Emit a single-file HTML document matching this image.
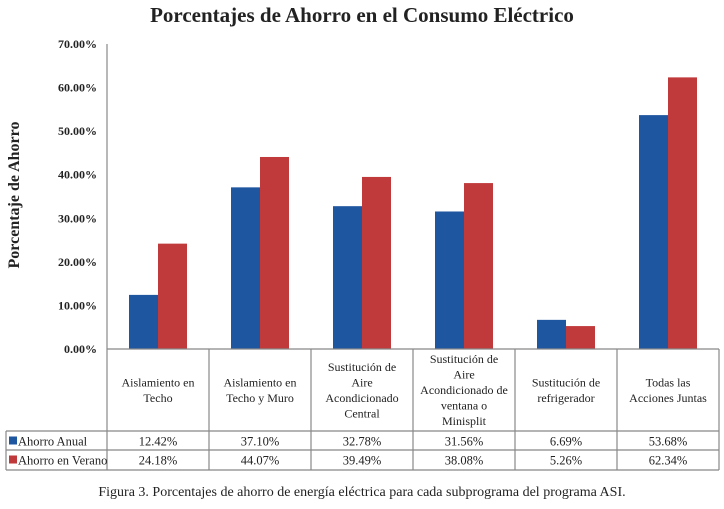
<!DOCTYPE html>
<html><head><meta charset="utf-8"><style>
body{margin:0;background:#fff;width:724px;height:504px;overflow:hidden;font-family:"Liberation Serif",serif;}
svg text{font-family:"Liberation Serif",serif;}
</style></head><body>
<svg id="c" width="724" height="504">
<text x="362" y="22" text-anchor="middle" font-size="21" font-weight="bold" fill="#222">Porcentajes de Ahorro en el Consumo  Eléctrico</text>
<text transform="translate(19,195) rotate(-90)" text-anchor="middle" font-size="16" font-weight="bold" fill="#222">Porcentaje de Ahorro</text>
<text x="362" y="496" text-anchor="middle" font-size="14" fill="#222">Figura 3. Porcentajes de ahorro de energía eléctrica para cada subprograma del programa ASI.</text>
<g id="g"></g>
</svg>
<script>
const categories=[["Aislamiento en","Techo"],["Aislamiento en","Techo y Muro"],["Sustitución de","Aire","Acondicionado","Central"],["Sustitución de","Aire","Acondicionado de","ventana o","Minisplit"],["Sustitución de","refrigerador"],["Todas las","Acciones Juntas"]];
const seriesNames=["Ahorro Anual","Ahorro en Verano"];
const anual=[12.42,37.10,32.78,31.56,6.69,53.68];
const verano=[24.18,44.07,39.49,38.08,5.26,62.34];
const yTicks=[0,10,20,30,40,50,60,70];
const colors=["#1f56a0","#c0393b"];
const NS="http://www.w3.org/2000/svg";
const g=document.getElementById('g');
const x0=107,cw=102,y0=349,y70=44;
const y=v=>y0-(v/70)*(y0-y70);
const cx=i=>x0+i*cw;
function el(t,a,txt){const e=document.createElementNS(NS,t);for(const k in a)e.setAttribute(k,a[k]);if(txt!==undefined)e.textContent=txt;g.appendChild(e);return e;}
yTicks.forEach(t=>{const e=el('text',{x:97,y:y(t)+4,'text-anchor':'end','font-size':12,'font-weight':'bold',fill:'#222'},t.toFixed(2)+'%');

});
[anual,verano].forEach((s,si)=>s.forEach((v,i)=>{const r=el('rect',{x:cx(i)+22+si*29,y:y(v),width:29,height:y0-y(v),fill:colors[si]});

}));
const ln=(a,b,c,d)=>{const l=el('line',{x1:a,y1:b,x2:c,y2:d,stroke:'#888','stroke-width':1.2});

};
const rows=[349,431,450,470];
ln(x0,y70,x0,rows[3]);
ln(x0,rows[0],cx(6),rows[0]);
ln(6,rows[1],cx(6),rows[1]);ln(6,rows[2],cx(6),rows[2]);ln(6,rows[3],cx(6),rows[3]);
ln(6,rows[1],6,rows[3]);
for(let i=1;i<=6;i++)ln(cx(i),rows[0],cx(i),rows[3]);
categories.forEach((c,i)=>{const n=c.length,lh=15.5,mid=390;c.forEach((s,j)=>{const t=el('text',{x:cx(i)+cw/2,y:mid+(j-(n-1)/2)*lh+4,'text-anchor':'middle','font-size':12,fill:'#222'},s);

});});
[anual,verano].forEach((s,si)=>{const ry=rows[1+si]+14.5;
const k=el('rect',{x:9,y:ry-9,width:8,height:8,fill:colors[si]});


const lt=el('text',{x:18,y:ry,'font-size':12.5,fill:'#222'},seriesNames[si]);


s.forEach((v,i)=>{const t=el('text',{x:cx(i)+cw/2,y:ry,'text-anchor':'middle','font-size':12.5,fill:'#222'},v.toFixed(2)+'%');

});});
</script>
</body></html>
